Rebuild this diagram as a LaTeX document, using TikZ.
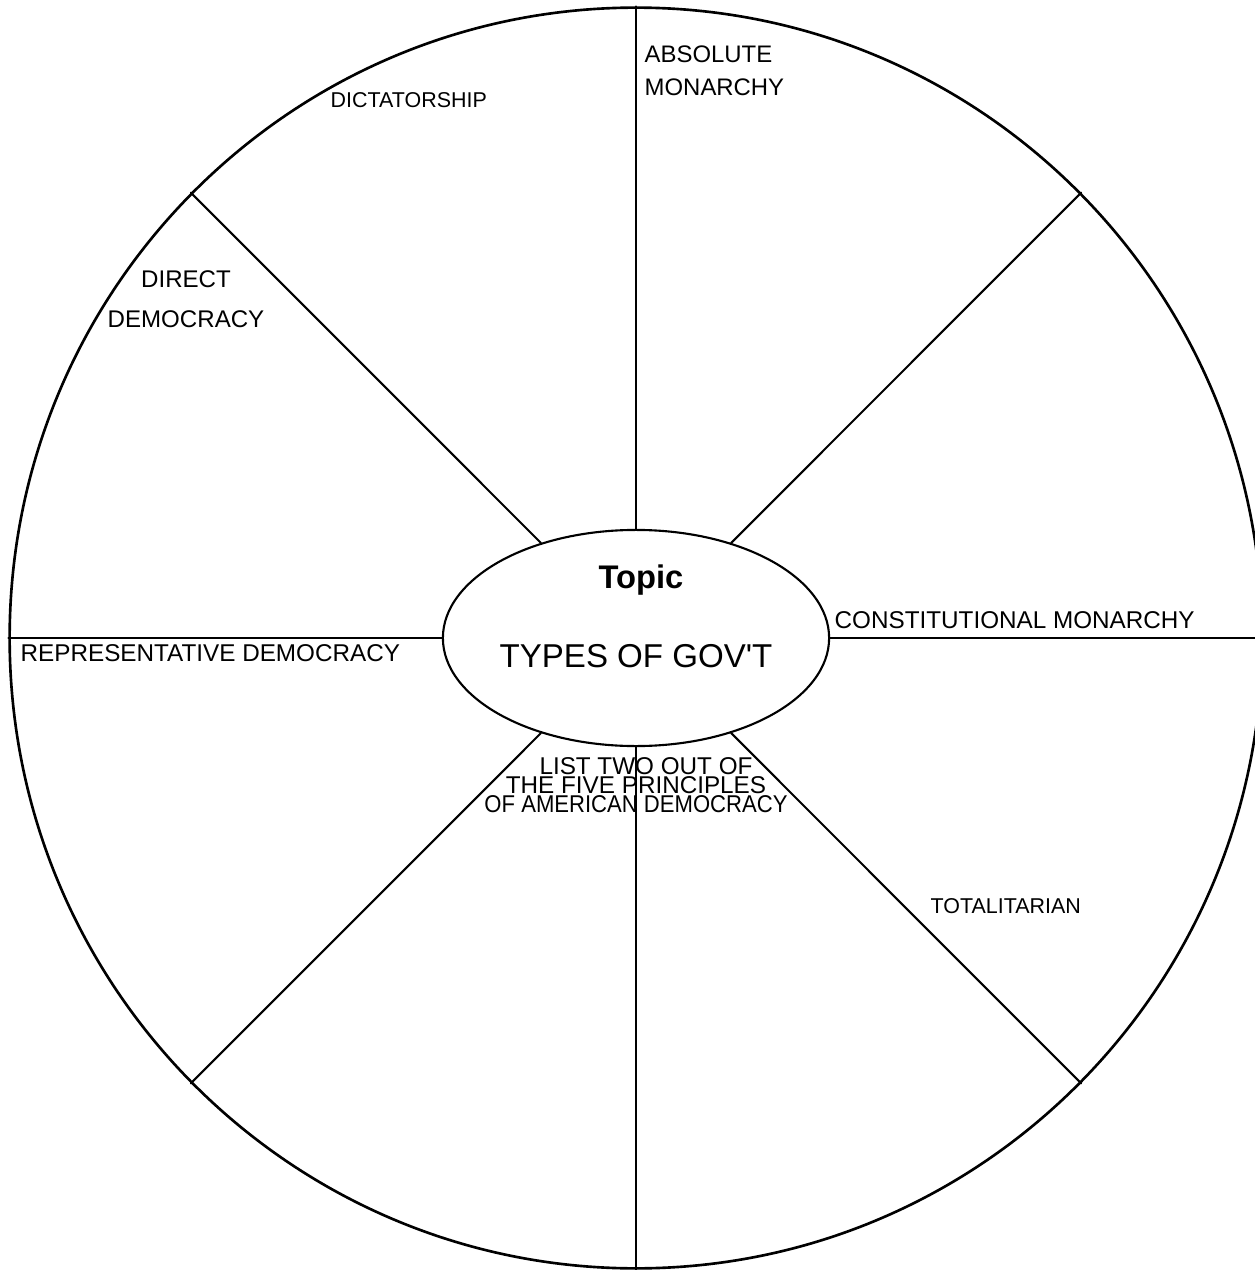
\documentclass[tikz,border=0pt]{standalone}
\usepackage{fontspec}
\usepackage{graphicx}
\setmainfont{Liberation Sans}
\usetikzlibrary{shapes.geometric}
\begin{document}
\begin{tikzpicture}[x=0.01cm, y=-0.01cm, line join=round, line cap=round,
		sector/.style={inner sep=0pt, font=\fontsize{6.9}{9.4}\selectfont},
		smallsector/.style={inner sep=0pt, font=\fontsize{6.1}{8}\selectfont}]
			\path[use as bounding box, clip] (0,0) rectangle (1255,1270);
			\node[ellipse, draw, line width=0.75pt, inner sep=0pt, minimum width=12.52cm, minimum height=12.60cm] (wheel) at (636,638) {};
			\node[ellipse, draw, line width=0.6pt, inner sep=0pt, minimum width=3.86cm, minimum height=2.16cm] (topic) at (636,638) {};
			\foreach \a in {0,45,...,315}
				\draw[line width=0.6pt] (topic.\a)--(wheel.\a);
			% centre
			\node[inner sep=0pt, anchor=base, font=\bfseries\fontsize{9.3}{11}\selectfont] (topictitle) at (641,588) {Topic};
			\node[inner sep=0pt, anchor=base, font=\fontsize{9.4}{11}\selectfont] (topicname) at (636,667) {TYPES OF GOV\textquotesingle T};
			% sectors
			\node[smallsector, anchor=base west] (dictatorship) at (330,108) {DICTATORSHIP};
			\node[sector, anchor=north west, align=left, font=\fontsize{6.8}{9.4}\selectfont] (absolute) at (644,45) {ABSOLUTE\\MONARCHY};
			\node[sector, anchor=north, align=center, font=\fontsize{6.85}{11.4}\selectfont] (direct) at (186,270) {DIRECT\\DEMOCRACY};
			\node[sector, anchor=north west] (representative) at (20,644) {REPRESENTATIVE DEMOCRACY};
			\node[sector, anchor=base west] (constitutional) at (834,628) {CONSTITUTIONAL MONARCHY};
			\node[smallsector, anchor=base west] (totalitarian) at (930,913) {TOTALITARIAN};
			\node[sector, anchor=north, align=center, font=\fontsize{6.9}{5.4}\selectfont] (principles) at (636,757) {\hspace{0.2cm}LIST TWO OUT OF\\THE FIVE PRINCIPLES\\\scalebox{0.91}[1]{OF AMERICAN DEMOCRACY}};
		\end{tikzpicture}
\end{document}
